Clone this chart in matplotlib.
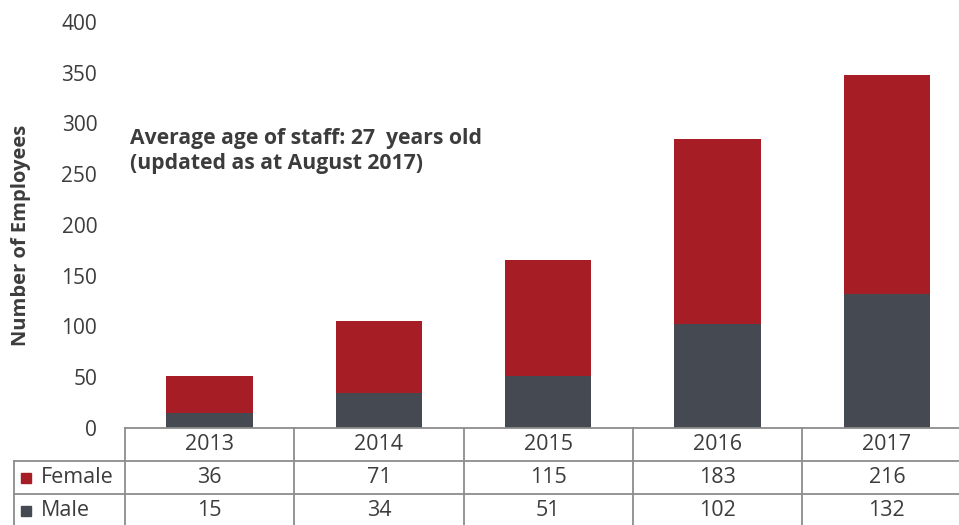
import matplotlib.pyplot as plt
from matplotlib.transforms import blended_transform_factory

years = ['2013', '2014', '2015', '2016', '2017']
female = [36, 71, 115, 183, 216]
male = [15, 34, 51, 102, 132]
series_names = ['Female', 'Male']

red = '#A61D25'
grey = '#454A52'
text_col = '#3C3C3C'
line_col = '#8C8C8C'

plt.rcParams['font.family'] = ['Open Sans', 'DejaVu Sans']

fig = plt.figure(figsize=(9.59, 5.25), dpi=100)
ax = fig.add_axes([125 / 959, 97 / 525, 846.5 / 959, 406 / 525])

x = list(range(len(years)))
ax.bar(x, male, width=0.51, color=grey, zorder=2)
ax.bar(x, female, width=0.51, bottom=male, color=red, zorder=2)

ax.set_xlim(-0.5, len(years) - 0.5)
ax.set_ylim(0, 400)
ax.set_yticks(range(0, 401, 50))
ax.tick_params(axis='y', length=0, pad=20, labelsize=15, labelcolor=text_col)
ax.set_xticks([])
for s in ax.spines.values():
    s.set_visible(False)

ax.set_ylabel('Number of Employees', fontsize=14.5, fontweight='bold',
              color=text_col)
ax.yaxis.set_label_coords(-(125 - 31) / 846.5, 0.475)

# note
ax.text(-0.47, 296, 'Average age of staff: 27  years old\n(updated as at August 2017)',
        fontsize=15.2, fontweight='bold', color=text_col, va='top',
        linespacing=1.3)

# data table below the axis
tr = blended_transform_factory(ax.transData, ax.transAxes)
rh = 33 / 406
left_lbl = -0.5 - 111 / 169.3
kw = dict(transform=tr, clip_on=False, color=line_col, lw=1.3)
ax.plot([-0.5, 4.5 + 0.2], [0, 0], **kw)
ax.plot([left_lbl, 4.7], [-rh, -rh], **kw)
ax.plot([left_lbl, 4.7], [-2 * rh, -2 * rh], **kw)
for b in range(len(years) + 1):
    ax.plot([b - 0.5, b - 0.5], [0, -3.2 * rh], **kw)
ax.plot([left_lbl, left_lbl], [-rh, -3.2 * rh], **kw)

for i, y in enumerate(years):
    ax.text(i, -0.5 * rh, y, transform=tr, ha='center', va='center',
            fontsize=15.5, color=text_col)
rows = [female, male]
cols = [red, grey]
for r, (name, vals, c) in enumerate(zip(series_names, rows, cols)):
    yc = -(r + 1.5) * rh
    ax.plot([-0.5 - 99 / 169.3], [yc], marker='s', markersize=6.5, color=c,
            transform=tr, clip_on=False)
    ax.text(-0.5 - 84 / 169.3, yc, name, transform=tr, ha='left', va='center',
            fontsize=15.5, color=text_col)
    for i, v in enumerate(vals):
        ax.text(i, yc, str(v), transform=tr, ha='center', va='center',
                fontsize=15.5, color=text_col)

fig.savefig('out.png', dpi=100)
